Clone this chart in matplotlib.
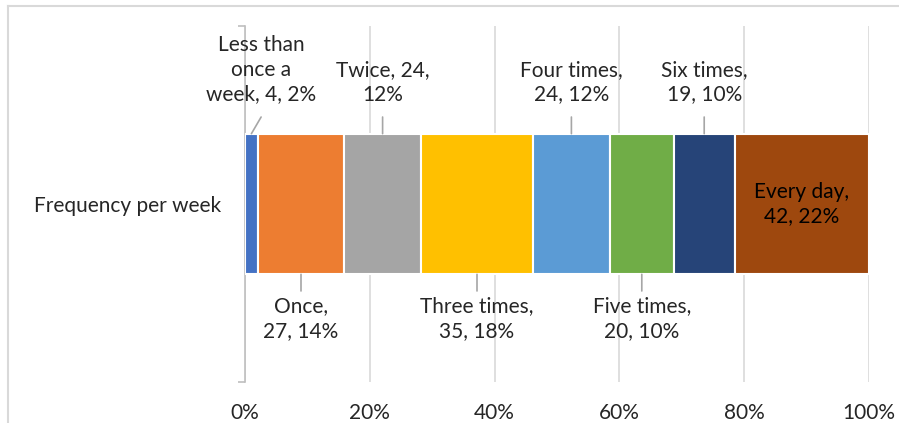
import numpy as np
import matplotlib
matplotlib.use("Agg")
import matplotlib.pyplot as plt
from matplotlib.lines import Line2D
from matplotlib.ticker import PercentFormatter

plt.rcParams['font.family'] = ['Lato', 'DejaVu Sans']

# data
category = "Frequency per week"
names = ["Less than\nonce a\nweek", "Once", "Twice", "Three times",
         "Four times", "Five times", "Six times", "Every day"]
counts = [4, 27, 24, 35, 24, 20, 19, 42]
# where the data label wraps (Excel style)
label_fmt = ["{n}, {c}, {p}%", "{n},\n{c}, {p}%", "{n}, {c},\n{p}%", "{n},\n{c}, {p}%",
             "{n},\n{c}, {p}%", "{n},\n{c}, {p}%", "{n},\n{c}, {p}%", "{n},\n{c}, {p}%"]
colors = ["#4472C4", "#ED7D31", "#A5A5A5", "#FFC000",
          "#5B9BD5", "#70AD47", "#264478", "#9E480E"]
tick_vals = [0, 0.2, 0.4, 0.6, 0.8, 1.0]

total = sum(counts)
shares = [c / total for c in counts]

fig = plt.figure(figsize=(8.99, 4.23), dpi=100)
ax = fig.add_axes([245 / 899, 1 - 382 / 423, 624 / 899, 356 / 423])

txt = "#262626"
fs = 15
left = 0
bar_h = 0.395
for i, (nm, c, s, col) in enumerate(zip(names, counts, shares, colors)):
    ax.barh(0, s, left=left, height=bar_h, color=col, edgecolor="white",
            linewidth=1.5, zorder=3)
    mid = left + s / 2
    label = label_fmt[i].format(n=nm, c=c, p=round(s * 100))
    if i == len(names) - 1:
        ax.text(mid, 0, label, ha="center", va="center", fontsize=fs,
                color="black", zorder=4, linespacing=1.3)
    else:
        up = i % 2 == 0
        y0 = bar_h / 2 if up else -bar_h / 2
        dx = 7 if i == 0 else 0
        dy = 12 if up else -12
        # leader line
        ax.annotate("", xy=(mid, y0), xytext=(dx, dy), textcoords="offset points",
                    arrowprops=dict(arrowstyle="-", color="#a6a6a6", lw=1.2,
                                    shrinkA=0, shrinkB=0))
        ax.annotate(label, xy=(mid, y0), xytext=(dx, 21 if up else -16),
                    textcoords="offset points", ha="center",
                    va="bottom" if up else "top", fontsize=fs, color=txt,
                    linespacing=1.3)
    left += s

ax.set_xlim(0, 1)
ax.set_ylim(-0.5, 0.5)
ax.set_xticks(tick_vals)
ax.xaxis.set_major_formatter(PercentFormatter(1.0, decimals=0))
ax.tick_params(axis="x", length=0, pad=15, labelsize=fs, labelcolor=txt)
ax.grid(axis="x", color="#d9d9d9", lw=1.2, zorder=0)

ax.set_yticks([0])
ax.set_yticklabels([category])
ax.set_yticks([-0.5, 0.5], minor=True)
ax.tick_params(axis="y", which="major", length=0, pad=17, labelsize=fs, labelcolor=txt)
ax.tick_params(axis="y", which="minor", length=5, color="#bfbfbf", width=1.2)

for side in ["top", "right", "bottom"]:
    ax.spines[side].set_visible(False)
ax.spines["left"].set_color("#bfbfbf")
ax.spines["left"].set_linewidth(1.2)

# chart border (left and top visible)
fig.add_artist(Line2D([8 / 899, 8 / 899], [0, 1 - 6 / 423], color="#d9d9d9", lw=1.5))
fig.add_artist(Line2D([8 / 899, 1], [1 - 6 / 423, 1 - 6 / 423], color="#d9d9d9", lw=1.5))

fig.savefig("out.png", dpi=100)
